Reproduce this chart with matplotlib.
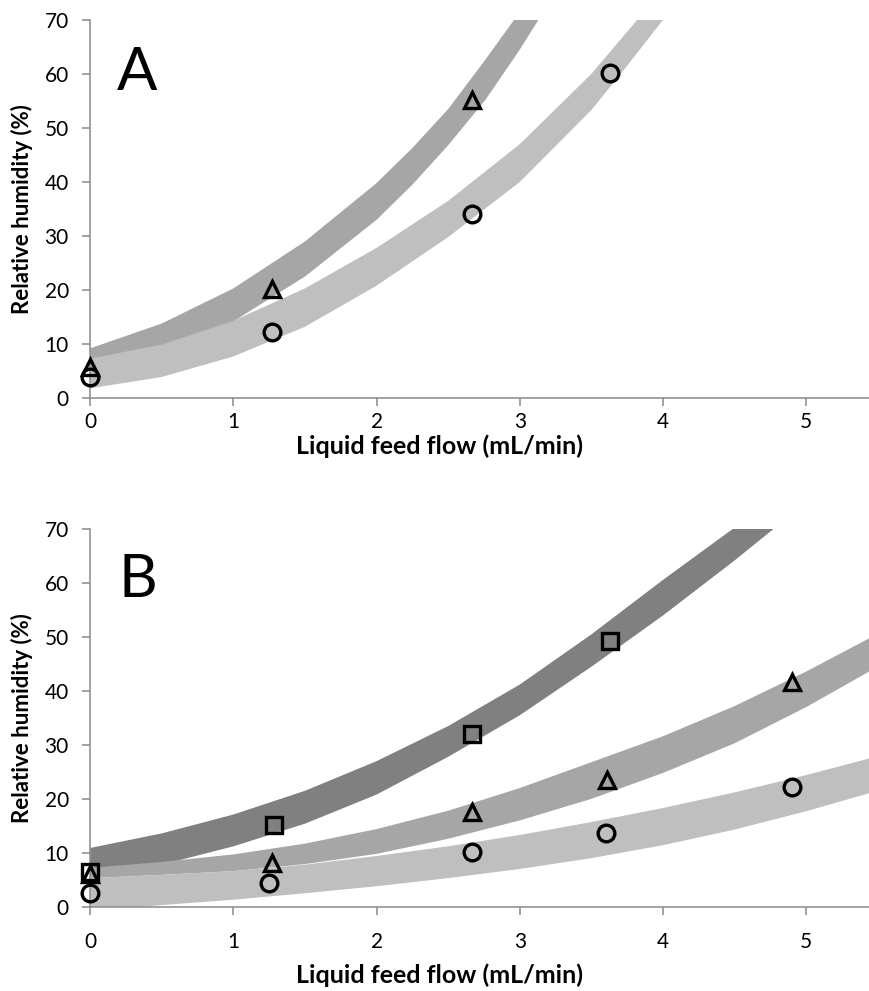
import numpy as np
import matplotlib.pyplot as plt

plt.rcParams['font.family'] = ['Lato', 'DejaVu Sans']

LIGHT, MID, DARK = "#bfbfbf", "#a6a6a6", "#808080"
AXIS_GRAY = "#898989"

# ---- panel A ----
A_TRI_X = [0, 1.27, 2.67]
A_TRI_Y = [5.7, 20.1, 55.2]
A_CIR_X = [0, 1.27, 2.67, 3.63]
A_CIR_Y = [3.9, 12.3, 34.1, 60.2]

# band behind the triangles (upper / lower edges)
A_MID_UP_X = [0, 0.5, 1, 1.5, 2, 2.25, 2.5, 2.75, 2.96, 3.1]
A_MID_UP_Y = [9.2, 13.8, 20.3, 29.0, 39.8, 46.3, 53.5, 62.3, 70, 75.5]
A_MID_LO_X = [0, 0.5, 1, 1.5, 2, 2.25, 2.5, 2.76, 3.0, 3.13, 3.26]
A_MID_LO_Y = [6.0, 9.0, 14.2, 22.5, 33.0, 39.5, 46.8, 55.2, 64.5, 70, 75.5]

# band behind the circles
A_LIG_UP_X = [0, 0.5, 1, 1.5, 2, 2.5, 3.0, 3.5, 3.82, 3.96]
A_LIG_UP_Y = [7.3, 9.9, 14.3, 20.3, 27.8, 36.5, 47.0, 60.0, 70, 75]
A_LIG_LO_X = [0, 0.5, 1, 1.5, 2, 2.5, 3.0, 3.5, 3.75, 4.0, 4.14]
A_LIG_LO_Y = [1.8, 3.9, 7.7, 13.2, 20.8, 29.8, 40.0, 53.3, 61.5, 70, 75]

# ---- panel B ----
B_SQ_X = [0, 1.28, 2.67, 3.63]
B_SQ_Y = [6.4, 15.1, 32.1, 49.3]
B_TRI_X = [0, 1.27, 2.67, 3.61, 4.9]
B_TRI_Y = [6.0, 8.1, 17.6, 23.5, 41.7]
B_CIR_X = [0, 1.25, 2.67, 3.6, 4.9]
B_CIR_Y = [2.5, 4.4, 10.2, 13.6, 22.2]

B_DRK_UP_X = [0, 0.5, 1, 1.5, 2, 2.5, 3, 3.5, 4, 4.5, 4.65]
B_DRK_UP_Y = [10.9, 13.6, 17.1, 21.5, 27.0, 33.5, 41.2, 50.5, 60.6, 70.3, 73.5]
B_DRK_LO_X = [0, 0.5, 1, 1.5, 2, 2.5, 3, 3.5, 4, 4.5, 4.77, 4.92]
B_DRK_LO_Y = [5.5, 7.8, 11.2, 15.4, 20.8, 27.8, 35.5, 44.5, 54.0, 64.2, 70, 73.5]

B_MID_UP_X = [0, 0.5, 1, 1.5, 2, 2.5, 3, 3.5, 4, 4.5, 5, 5.5]
B_MID_UP_Y = [7.2, 8.3, 9.7, 11.7, 14.4, 17.8, 22.0, 26.8, 31.6, 37.2, 43.6, 50.6]
B_MID_LO_X = [0, 0.5, 1, 1.5, 2, 2.5, 3, 3.5, 4, 4.5, 5, 5.5]
B_MID_LO_Y = [5.3, 5.9, 6.6, 7.9, 9.8, 12.6, 16.0, 20.0, 24.8, 30.3, 37.0, 44.5]

B_LIG_UP_X = [0, 0.5, 1, 1.5, 2, 2.5, 3, 3.5, 4, 4.5, 5, 5.5]
B_LIG_UP_Y = [5.3, 5.9, 6.6, 7.8, 9.4, 11.2, 13.3, 15.7, 18.3, 21.2, 24.4, 27.9]
B_LIG_LO_X = [0, 0.5, 1, 1.5, 2, 2.5, 3, 3.5, 4, 4.5, 5, 5.5]
B_LIG_LO_Y = [-0.8, 0.3, 1.3, 2.5, 3.8, 5.3, 7.0, 9.0, 11.4, 14.3, 17.7, 21.5]

X_TICKS = [0, 1, 2, 3, 4, 5]
Y_TICKS = [0, 10, 20, 30, 40, 50, 60, 70]
XLABEL = "Liquid feed flow (mL/min)"
YLABEL = "Relative humidity (%)"

W, H = 869, 991
fig = plt.figure(figsize=(W / 100, H / 100), dpi=100)


def band(ax, ux, uy, lx, ly, color):
    xs = np.concatenate([ux, lx[::-1]])
    ys = np.concatenate([uy, ly[::-1]])
    ax.fill(xs, ys, color=color, lw=0, zorder=1)


def marks(ax, x, y, m, ms=12):
    ax.plot(x, y, ls="none", marker=m, ms=ms, mfc="none", mec="black",
            mew=2.4, clip_on=False, zorder=5)


def style(ax, xpad):
    ax.set_xlim(0, 5.44)
    ax.set_ylim(0, 70)
    ax.set_xticks(X_TICKS)
    ax.set_yticks(Y_TICKS)
    for s in ["top", "right"]:
        ax.spines[s].set_visible(False)
    for s in ["left", "bottom"]:
        ax.spines[s].set_color(AXIS_GRAY)
        ax.spines[s].set_linewidth(1.1)
    ax.tick_params(axis="both", direction="out", color=AXIS_GRAY, width=1.1,
                   length=5.5, labelsize=15, labelcolor="black")
    ax.tick_params(axis="y", pad=10)
    ax.tick_params(axis="x", pad=xpad)


def px(x0, y0, w, h):
    return [x0 / W, 1 - (y0 + h) / H, w / W, h / H]


axA = fig.add_axes(px(90.3, 20, 778.7, 378))
band(axA, A_MID_UP_X, A_MID_UP_Y, A_MID_LO_X, A_MID_LO_Y, MID)
band(axA, A_LIG_UP_X, A_LIG_UP_Y, A_LIG_LO_X, A_LIG_LO_Y, LIGHT)
marks(axA, A_TRI_X, A_TRI_Y, "^", 11)
marks(axA, A_CIR_X, A_CIR_Y, "o")
style(axA, 4.5)
axA.text(0.33, 60.2, "A", fontsize=43, ha="center", va="center")

axB = fig.add_axes(px(90.3, 529.3, 778.7, 377.4))
band(axB, B_DRK_UP_X, B_DRK_UP_Y, B_DRK_LO_X, B_DRK_LO_Y, DARK)
band(axB, B_MID_UP_X, B_MID_UP_Y, B_MID_LO_X, B_MID_LO_Y, MID)
band(axB, B_LIG_UP_X, B_LIG_UP_Y, B_LIG_LO_X, B_LIG_LO_Y, LIGHT)
marks(axB, B_SQ_X, B_SQ_Y, "s", 11)
marks(axB, B_TRI_X, B_TRI_Y, "^", 11)
marks(axB, B_CIR_X, B_CIR_Y, "o")
style(axB, 12.5)
axB.text(0.33, 60.6, "B", fontsize=43, ha="center", va="center")

for yl, xl in [(209, 446), (718, 975)]:
    fig.text(22 / W, 1 - yl / H, YLABEL, rotation=90, ha="center", va="center",
             fontsize=16, fontweight="bold")
    fig.text(439 / W, 1 - xl / H, XLABEL, ha="center", va="center",
             fontsize=18, fontweight="bold")

fig.savefig("out.png", dpi=100)
